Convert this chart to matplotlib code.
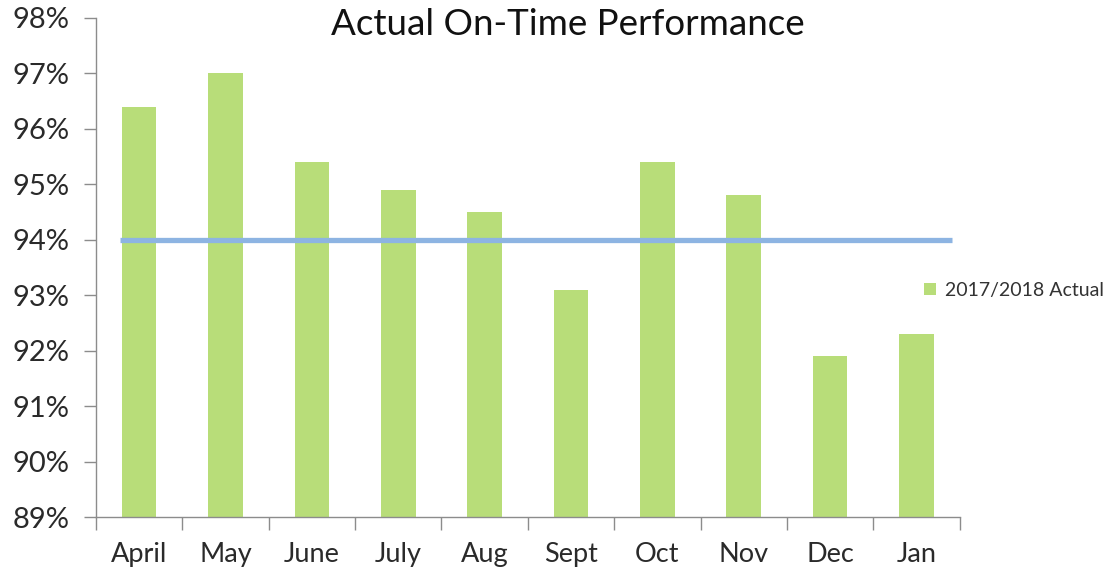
import matplotlib.pyplot as plt
import numpy as np

plt.rcParams['font.family'] = ['Lato', 'DejaVu Sans']

# data
months = ["April", "May", "June", "July", "Aug", "Sept", "Oct", "Nov", "Dec", "Jan"]
actual = [96.4, 97.0, 95.4, 94.9, 94.5, 93.1, 95.4, 94.8, 91.9, 92.3]
target_x = [-0.22, 9.41]
target_y = [94.0, 94.0]
y_ticks = [89, 90, 91, 92, 93, 94, 95, 96, 97, 98]

bar_color = '#b8dd79'
line_color = '#8db4e2'
axis_color = '#8c8c8c'

fig = plt.figure(figsize=(11.03, 5.76), dpi=100)
ax = fig.add_axes([0.087, 0.1024, 0.783, 0.8666])

x = np.arange(len(months))
bars = ax.bar(x, actual, width=0.4, color=bar_color, label='2017/2018 Actual', zorder=2)
ax.plot(target_x, target_y, color=line_color, linewidth=3.8, solid_capstyle='butt', zorder=3)

ax.set_ylim(89, 98)
ax.set_xlim(-0.5, len(months) - 0.5)
ax.set_yticks(y_ticks)
ax.set_yticklabels([f"{v}%" for v in y_ticks])

# category boundaries get the tick marks, centres carry the labels
ax.set_xticks(np.arange(-0.5, len(months), 1.0))
ax.set_xticklabels([])
ax.set_xticks(x, minor=True)
ax.set_xticklabels(months, minor=True)

ax.tick_params(axis='y', length=9, width=1, color=axis_color, labelsize=21, pad=10, labelcolor='#2a2a2a')
ax.tick_params(axis='x', which='major', length=9, width=1, color=axis_color)
ax.tick_params(axis='x', which='minor', length=0, labelsize=19.5, pad=18, labelcolor='#2a2a2a')

for side in ['top', 'right']:
    ax.spines[side].set_visible(False)
for side in ['left', 'bottom']:
    ax.spines[side].set_color(axis_color)
    ax.spines[side].set_linewidth(1)

fig.text(0.515, 0.958, "Actual On-Time Performance", ha='center', va='center', fontsize=26.5, color='#111111')

fig.legend(handles=[bars], loc='center left', bbox_to_anchor=(0.822, 0.496), frameon=False,
           fontsize=14, handlelength=0.6, handleheight=0.6, handletextpad=0.45, labelcolor='#333333')

fig.savefig('out.png', dpi=100)
